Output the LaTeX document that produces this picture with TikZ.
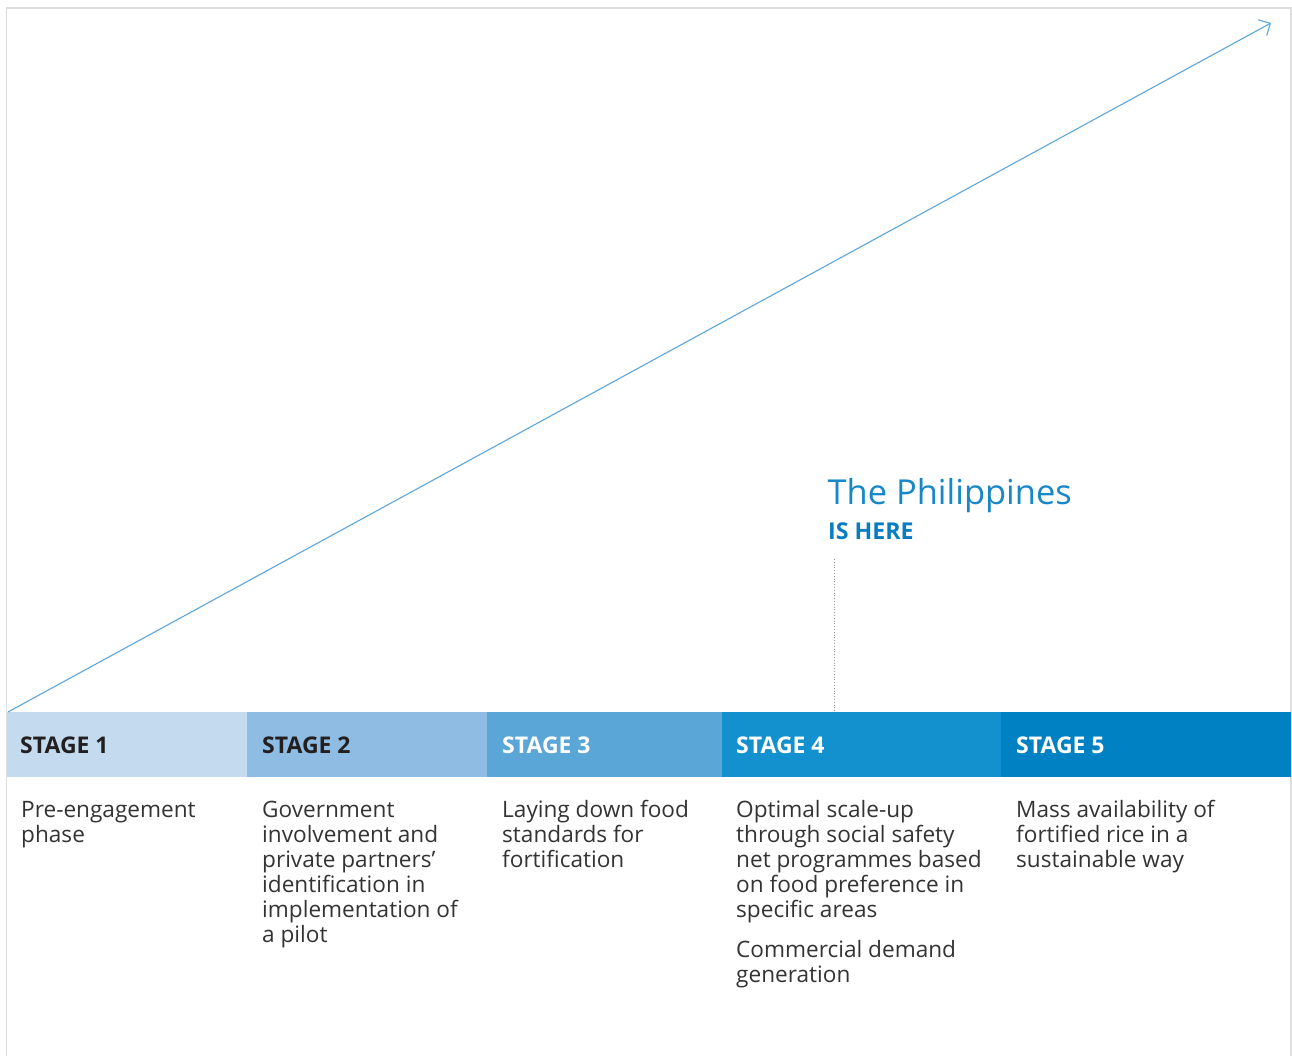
\documentclass[tikz,border=0pt]{standalone}
\usepackage{fontspec}
\setmainfont{Open Sans}
\usetikzlibrary{arrows.meta}
\definecolor{frameC}{HTML}{DDDDDD}
\definecolor{sOne}{HTML}{C4DBEF}
\definecolor{sTwo}{HTML}{8FBCE3}
\definecolor{sThree}{HTML}{5AA6D7}
\definecolor{sFour}{HTML}{1391CE}
\definecolor{sFive}{HTML}{0081C3}
\definecolor{arrowC}{HTML}{5BA7DD}
\definecolor{phC}{HTML}{1787C8}
\definecolor{hereC}{HTML}{087CC2}
\definecolor{darkT}{HTML}{231F20}
\definecolor{bodyT}{HTML}{333333}
\definecolor{dotC}{HTML}{999999}
\begin{document}
\begin{tikzpicture}[x=1pt,y=-1pt,
  stagelabel/.style={anchor=base west,inner sep=0,font=\fontsize{23}{28}\selectfont\bfseries},
  bodytext/.style={anchor=base west,inner sep=0,text=bodyT},
]
\useasboundingbox (0,0) rectangle (1292,1056);
% frame
\draw[frameC,line width=1.6pt] (6.5,1056) -- (6.5,8) -- (1291,8) -- (1291,1056);
% stage bands
\fill[sOne]   (7,712) rectangle (247,777);
\fill[sTwo]   (247,712) rectangle (487,777);
\fill[sThree] (487,712) rectangle (722,777);
\fill[sFour]  (722,712) rectangle (1001,777);
\fill[sFive]  (1001,712) rectangle (1291,777);
% stage labels
\node[stagelabel,text=darkT] (s1) at (20,753.5) {STAGE 1};
\node[stagelabel,text=darkT] (s2) at (262,753.5) {STAGE 2};
\node[stagelabel,text=white] (s3) at (502,753.5) {STAGE 3};
\node[stagelabel,text=white] (s4) at (736,753.5) {STAGE 4};
\node[stagelabel,text=white] (s5) at (1016,753.5) {STAGE 5};
% body text
\newcommand{\bodyfont}{\fontsize{22.6}{25}\selectfont}
\node[bodytext] (t1) at (21,817) {\parbox[t]{220pt}{\bodyfont\raggedright Pre-engagement\\phase}};
\node[bodytext] (t2) at (262,817) {\parbox[t]{220pt}{\bodyfont\raggedright Government\\involvement and\\private partners’\\identification in\\implementation of\\a pilot}};
\node[bodytext] (t3) at (502,817) {\parbox[t]{220pt}{\bodyfont\raggedright Laying down food\\standards for\\fortification}};
\node[bodytext] (t4) at (736,817) {\parbox[t]{280pt}{\bodyfont\raggedright Optimal scale-up\\through social safety\\net programmes based\\on food preference in\\specific areas\\[15pt]Commercial demand\\generation}};
\node[bodytext] (t5) at (1016,817) {\parbox[t]{270pt}{\bodyfont\raggedright Mass availability of\\fortified rice in a\\sustainable way}};
% arrow
\coordinate (start) at (8,712);
\coordinate (tip) at (1271,23);
\draw[arrowC,line width=1.1pt,-{Straight Barb[length=9pt,width=18pt,line width=1.1pt]}] (start) -- (tip);
% Philippines label
\node[anchor=base west,inner sep=0,text=phC,font=\fontsize{34.4}{40}\selectfont] (ph) at (827.5,504) {The Philippines};
\node[anchor=base west,inner sep=0,text=hereC,font=\fontsize{23.2}{26}\selectfont\bfseries] (here) at (828,539) {IS HERE};
\coordinate (dtop) at (834.5,559);
\coordinate (dbot) at (834.5,712);
\draw[dotC,line width=0.8pt,dotted] (dtop) -- (dbot);
\end{tikzpicture}
\end{document}
